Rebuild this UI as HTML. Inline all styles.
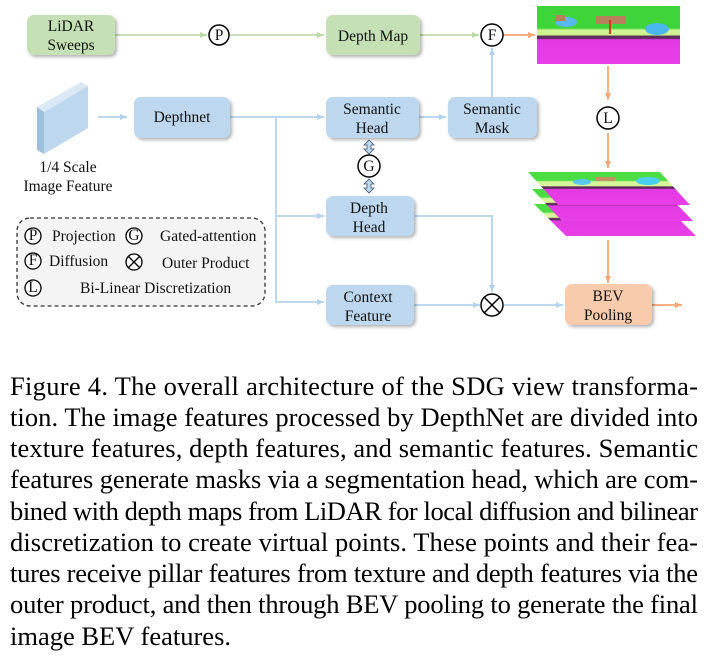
<!DOCTYPE html>
<html><head><meta charset="utf-8"><style>
html,body{margin:0;padding:0;background:#fff;width:711px;height:662px;overflow:hidden}
svg{display:block}
.d{font-family:"Liberation Serif",serif;font-size:15.5px;fill:#111}
.c{font-family:"Liberation Serif",serif;font-size:26.5px;fill:#000}
</style></head><body>
<svg width="711" height="662" viewBox="0 0 711 662" xmlns="http://www.w3.org/2000/svg">
<defs>
<filter id="sh" x="-10%" y="-10%" width="130%" height="140%"><feDropShadow dx="2" dy="2" stdDeviation="1.5" flood-color="#000" flood-opacity="0.3"/></filter>
<marker id="ag" markerWidth="8" markerHeight="8" refX="7" refY="4" orient="auto" markerUnits="userSpaceOnUse"><path d="M0,1 L7,4 L0,7z" fill="#b9dca4"/></marker>
<marker id="ab" markerWidth="8" markerHeight="8" refX="7" refY="4" orient="auto" markerUnits="userSpaceOnUse"><path d="M0,1 L7,4 L0,7z" fill="#b4d3ee"/></marker>
<marker id="ao" markerWidth="8" markerHeight="8" refX="7" refY="4" orient="auto" markerUnits="userSpaceOnUse"><path d="M0,1 L7,4 L0,7z" fill="#f4a878"/></marker>
<linearGradient id="seg" x1="0" y1="0" x2="0" y2="1">
<stop offset="0" stop-color="#3fd43a"/><stop offset="0.38" stop-color="#3fd43a"/>
<stop offset="0.42" stop-color="#d8f59a"/><stop offset="0.5" stop-color="#c8ef8a"/>
<stop offset="0.52" stop-color="#5a2a5a"/><stop offset="0.56" stop-color="#5a2a5a"/>
<stop offset="0.58" stop-color="#e43ae4"/><stop offset="1" stop-color="#e83ee8"/>
</linearGradient>
<linearGradient id="seg2" x1="0" y1="0" x2="0" y2="1">
<stop offset="0" stop-color="#4cdc44"/><stop offset="0.25" stop-color="#4cdc44"/>
<stop offset="0.3" stop-color="#d8f59a"/><stop offset="0.42" stop-color="#d8f59a"/>
<stop offset="0.45" stop-color="#5a2a5a"/><stop offset="0.5" stop-color="#5a2a5a"/>
<stop offset="0.52" stop-color="#e43ae4"/><stop offset="1" stop-color="#e83ee8"/>
</linearGradient>
</defs>

<g fill="none" stroke-width="2">
<line x1="115" y1="35" x2="207" y2="35" stroke="#c5e0b4" marker-end="url(#ag)"/>
<line x1="230" y1="35" x2="324" y2="35" stroke="#c5e0b4" marker-end="url(#ag)"/>
<line x1="420" y1="35" x2="479" y2="35" stroke="#c5e0b4" marker-end="url(#ag)"/>
<line x1="503" y1="35" x2="535" y2="35" stroke="#f4b183" marker-end="url(#ao)"/>
<line x1="492" y1="97" x2="492" y2="48" stroke="#bdd7ee" marker-end="url(#ab)"/>
<line x1="98" y1="117" x2="127" y2="117" stroke="#bdd7ee" marker-end="url(#ab)"/>
<polyline points="230,117 276,117 276,302 324,302" stroke="#bdd7ee" marker-end="url(#ab)"/>
<line x1="276" y1="117" x2="324" y2="117" stroke="#bdd7ee" marker-end="url(#ab)"/>
<line x1="276" y1="216" x2="324" y2="216" stroke="#bdd7ee" marker-end="url(#ab)"/>
<line x1="419" y1="117" x2="446" y2="117" stroke="#bdd7ee" marker-end="url(#ab)"/>
<polyline points="414,216 492,216 492,292" stroke="#bdd7ee" marker-end="url(#ab)"/>
<line x1="414" y1="305" x2="480" y2="305" stroke="#bdd7ee" marker-end="url(#ab)"/>
<line x1="504" y1="305" x2="563" y2="305" stroke="#bdd7ee" marker-end="url(#ab)"/>
<line x1="608" y1="66" x2="608" y2="100" stroke="#f4b183" marker-end="url(#ao)"/>
<line x1="608" y1="133" x2="608" y2="168" stroke="#f4b183" marker-end="url(#ao)"/>
<line x1="608" y1="240" x2="608" y2="283" stroke="#f4b183" marker-end="url(#ao)"/>
<line x1="652" y1="305" x2="682" y2="305" stroke="#f4b183" marker-end="url(#ao)"/>
</g>

<g filter="url(#sh)">
<rect x="27" y="15" width="88" height="40" rx="7" fill="#c5e0b4"/>
<rect x="326" y="15" width="94" height="40" rx="7" fill="#c5e0b4"/>
<rect x="134" y="97" width="96" height="41" rx="7" fill="#bdd7ee"/>
<rect x="326" y="97" width="93" height="41" rx="7" fill="#bdd7ee"/>
<rect x="448" y="97" width="89" height="41" rx="7" fill="#bdd7ee"/>
<rect x="326" y="196" width="88" height="40" rx="7" fill="#bdd7ee"/>
<rect x="326" y="285" width="88" height="40" rx="7" fill="#bdd7ee"/>
<rect x="565" y="284" width="87" height="41" rx="7" fill="#f8cbad"/>
</g>

<g class="d" text-anchor="middle">
<text x="71" y="31">LiDAR</text><text x="71" y="50">Sweeps</text>
<text x="373" y="41">Depth Map</text>
<text x="182" y="122">Depthnet</text>
<text x="372" y="114">Semantic</text><text x="372" y="133">Head</text>
<text x="492" y="114">Semantic</text><text x="492" y="133">Mask</text>
<text x="369" y="213">Depth</text><text x="369" y="232">Head</text>
<text x="368" y="302">Context</text><text x="368" y="321">Feature</text>
<text x="608" y="301">BEV</text><text x="608" y="320">Pooling</text>
<text x="68" y="172">1/4 Scale</text><text x="68" y="191">Image Feature</text>
</g>

<polygon points="37,107 81,82 88,86 44,112" fill="#dbe8f5"/>
<polygon points="44,112 88,86 88,128 44,154" fill="#bdd7ee"/>
<polygon points="37,107 44,112 44,154 37,150" fill="#9fbfdc"/>

<g fill="#fff" stroke="#000" stroke-width="1.5">
<circle cx="219" cy="35" r="10"/>
<circle cx="492" cy="35" r="11"/>
<circle cx="608" cy="118" r="11"/>
<circle cx="369" cy="166" r="11"/>
<circle cx="492" cy="305" r="11"/>
</g>
<g stroke="#000" stroke-width="1.5"><line x1="484" y1="297" x2="500" y2="313"/><line x1="500" y1="297" x2="484" y2="313"/></g>
<g class="d" text-anchor="middle" font-size="14">
<text x="219" y="40">P</text><text x="492" y="40">F</text><text x="608" y="123">L</text><text x="369" y="171">G</text>
</g>
<g fill="#bdd7ee" stroke="#44546a" stroke-width="0.8">
<path d="M369,140 L374,145 L371,145 L371,149 L374,149 L369,154 L364,149 L367,149 L367,145 L364,145z"/>
<path d="M369,179 L374,184 L371,184 L371,188 L374,188 L369,193 L364,188 L367,188 L367,184 L364,184z"/>
</g>

<rect x="537" y="6" width="143" height="58" fill="url(#seg)"/>
<ellipse cx="566" cy="22" rx="11" ry="5" fill="#5ab8f0"/>
<ellipse cx="657" cy="29" rx="12" ry="6" fill="#4ab8ee"/>
<rect x="596" y="16" width="30" height="8" fill="#b8805a"/>
<rect x="555" y="15" width="10" height="6" fill="#b8805a"/>
<line x1="610" y1="20" x2="610" y2="34" stroke="#e03020" stroke-width="2"/>

<polygon points="534,204 664,204 696,236 566,236" fill="url(#seg2)"/>
<polygon points="532,189 662,189 693,221 562,221" fill="url(#seg2)"/>
<polygon points="528,172 660,172 690,205 558,205" fill="url(#seg2)"/>
<ellipse cx="648" cy="181" rx="12" ry="4" fill="#4ad0f0"/>
<ellipse cx="582" cy="182" rx="9" ry="3" fill="#5ac8f0"/>
<rect x="595" y="177" width="20" height="4" fill="#c89060"/>

<rect x="17" y="218" width="248" height="88" rx="13" fill="#f4f4f4" stroke="#333" stroke-width="1.3" stroke-dasharray="4,3"/>
<g fill="#fff" stroke="#000" stroke-width="1.3">
<circle cx="33" cy="236" r="8"/><circle cx="134" cy="236" r="8"/>
<circle cx="33" cy="261" r="8"/><circle cx="134" cy="262" r="8"/>
<circle cx="33" cy="288" r="8"/>
</g>
<g stroke="#000" stroke-width="1.3"><line x1="128.5" y1="256.5" x2="139.5" y2="267.5"/><line x1="139.5" y1="256.5" x2="128.5" y2="267.5"/></g>
<g class="d" font-size="12" text-anchor="middle">
<text x="33" y="240">P</text><text x="134" y="240">G</text><text x="33" y="265">F</text><text x="33" y="292">L</text>
</g>
<g class="d" font-size="14.5">
<text x="52" y="241">Projection</text>
<text x="160" y="241">Gated-attention</text>
<text x="49" y="266">Diffusion</text>
<text x="162" y="268">Outer Product</text>
<text x="80" y="293">Bi-Linear Discretization</text>
</g>

<g class="c">
<text x="10" y="395" textLength="688" lengthAdjust="spacing">Figure 4.  The overall architecture of the SDG view transforma-</text>
<text x="10" y="426" textLength="688" lengthAdjust="spacing">tion. The image features processed by DepthNet are divided into</text>
<text x="10" y="457" textLength="688" lengthAdjust="spacing">texture features, depth features, and semantic features. Semantic</text>
<text x="10" y="488" textLength="688" lengthAdjust="spacing">features generate masks via a segmentation head, which are com-</text>
<text x="10" y="520" textLength="688" lengthAdjust="spacing">bined with depth maps from LiDAR for local diffusion and bilinear</text>
<text x="10" y="551" textLength="688" lengthAdjust="spacing">discretization to create virtual points. These points and their fea-</text>
<text x="10" y="582" textLength="688" lengthAdjust="spacing">tures receive pillar features from texture and depth features via the</text>
<text x="10" y="613" textLength="688" lengthAdjust="spacing">outer product, and then through BEV pooling to generate the final</text>
<text x="10" y="645">image BEV features.</text>
</g>
</svg>
</body></html>
